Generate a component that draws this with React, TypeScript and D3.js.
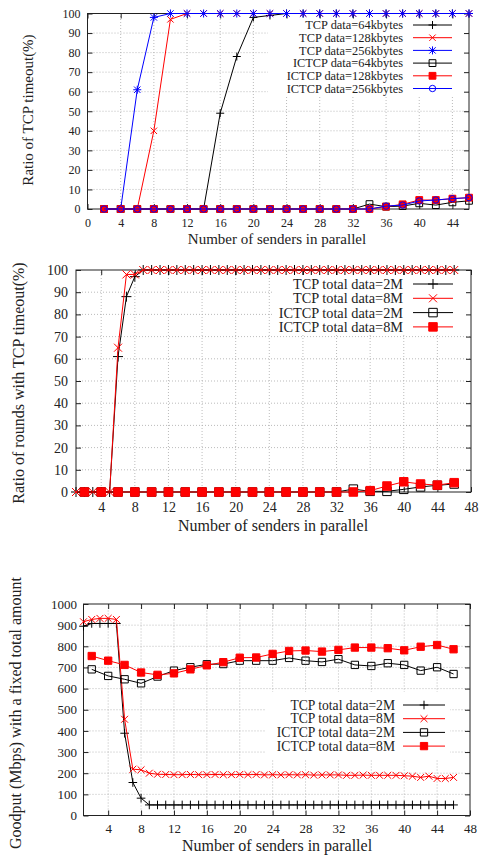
import React, { useRef, useEffect } from "react";
import * as d3 from "d3";

// ---------- chart 1: ratio of TCP timeout, by block size ----------
const x1 = [2, 4, 6, 8, 10, 12, 14, 16, 18, 20, 22, 24, 26, 28, 30, 32, 34, 36, 38, 40, 42, 44, 46];
const tcp64 = [0, 0, 0, 0, 0, 0, 0, 49, 78, 98, 99, 100, 100, 100, 100, 100, 100, 100, 100, 100, 100, 100, 100];
const tcp128 = [0, 0, 0, 40, 97, 100, 100, 100, 100, 100, 100, 100, 100, 100, 100, 100, 100, 100, 100, 100, 100, 100, 100];
const tcp256 = [0, 0, 61, 98, 100, 100, 100, 100, 100, 100, 100, 100, 100, 100, 100, 100, 100, 100, 100, 100, 100, 100, 100];
const ictcp64 = [0, 0, 0, 0, 0, 0, 0, 0, 0, 0, 0, 0, 0, 0, 0, 0, 2.5, 1.2, 1.5, 2.9, 2, 3.4, 4.2];
const ictcp128 = [0, 0, 0, 0, 0, 0, 0, 0, 0, 0, 0, 0, 0, 0, 0, 0, 0, 1.2, 2.4, 4.6, 4.6, 5.3, 5.8];
const ictcp256 = [0, 0, 0, 0, 0, 0, 0, 0, 0, 0, 0, 0, 0, 0, 0, 0, 0, 1.5, 2, 4.1, 4.6, 5.3, 5.8];
const x1Ticks = [0, 4, 8, 12, 16, 20, 24, 28, 32, 36, 40, 44];
const pctTicks = [0, 10, 20, 30, 40, 50, 60, 70, 80, 90, 100];

// ---------- chart 2: ratio of rounds with timeout, by total data ----------
const xAll = [1, 2, 3, 4, 5, 6, 7, 8, 9, 10, 11, 12, 13, 14, 15, 16, 17, 18, 19, 20, 21, 22, 23, 24, 25, 26, 27, 28, 29, 30, 31, 32, 33, 34, 35, 36, 37, 38, 39, 40, 41, 42, 43, 44, 45, 46];
const rTcp2M = [0, 0, 0, 0, 0, 61, 88, 97, 100, 100, 100, 100, 100, 100, 100, 100, 100, 100, 100, 100, 100, 100, 100, 100, 100, 100, 100, 100, 100, 100, 100, 100, 100, 100, 100, 100, 100, 100, 100, 100, 100, 100, 100, 100, 100, 100];
const rTcp8M = [0, 0, 0, 0, 0, 65, 98, 98, 100, 100, 100, 100, 100, 100, 100, 100, 100, 100, 100, 100, 100, 100, 100, 100, 100, 100, 100, 100, 100, 100, 100, 100, 100, 100, 100, 100, 100, 100, 100, 100, 100, 100, 100, 100, 100, 100];
const rIc2M = [0, 0, 0, 0, 0, 0, 0, 0, 0, 0, 0, 0, 0, 0, 0, 0, 1.3, 0.3, 0.3, 1.2, 2.3, 3, 3.6];
const rIc8M = [0, 0, 0, 0, 0, 0, 0, 0, 0, 0, 0, 0, 0, 0, 0, 0, 0, 0.6, 2.7, 4.6, 3.6, 3.1, 4.2];
const x48Ticks = [4, 8, 12, 16, 20, 24, 28, 32, 36, 40, 44, 48];

// ---------- chart 3: goodput ----------
const gTcp2M = [895, 908, 908, 908, 908, 389, 156, 82, 50, 50, 50, 50, 50, 50, 50, 50, 50, 50, 50, 50, 50, 50, 50, 50, 50, 50, 50, 50, 50, 50, 50, 50, 50, 50, 50, 50, 50, 50, 50, 50, 50, 50, 50, 50, 50, 50];
const gTcp8M = [916, 927, 932, 932, 927, 455, 219, 216, 200, 195, 194, 193, 193, 194, 193, 193, 194, 193, 193, 194, 193, 194, 192, 193, 192, 193, 192, 193, 191, 192, 192, 192, 190, 190, 191, 190, 190, 190, 190, 188, 186, 180, 186, 175, 175, 180];
const gIc2M = [691, 660, 644, 625, 657, 685, 701, 715, 716, 732, 732, 732, 745, 732, 726, 739, 712, 707, 720, 712, 685, 701, 669];
const gIc8M = [754, 732, 712, 676, 665, 672, 691, 710, 725, 746, 747, 764, 778, 780, 775, 783, 794, 794, 791, 781, 798, 806, 786];
const goodTicks = [0, 100, 200, 300, 400, 500, 600, 700, 800, 900, 1000];

const FONT = "'Liberation Serif', 'DejaVu Serif', serif";

const markerPath = (type, x, y, s) => {
  const p = d3.path();
  if (type === "plus" || type === "star") {
    p.moveTo(x - s, y); p.lineTo(x + s, y);
    p.moveTo(x, y - s); p.lineTo(x, y + s);
  }
  if (type === "cross" || type === "star") {
    const c = s * 0.8;
    p.moveTo(x - c, y - c); p.lineTo(x + c, y + c);
    p.moveTo(x - c, y + c); p.lineTo(x + c, y - c);
  }
  if (type === "square" || type === "fsquare") {
    p.rect(x - s * 0.85, y - s * 0.85, s * 1.7, s * 1.7);
  }
  if (type === "circle") {
    p.moveTo(x + s * 0.8, y);
    p.arc(x, y, s * 0.8, 0, 2 * Math.PI);
  }
  return p.toString();
};

const panels = [
  {
    xDomain: [0, 46], xRange: [87.5, 469],
    yDomain: [0, 100], yRange: [209, 13.5],
    xTicks: x1Ticks, yTicks: pctTicks,
    tickFont: 12, xPad: 9, yPad: 7, mark: 4,
    yLabel: "Ratio of TCP timeout(%)", yLabelPos: [28, 110],
    xLabelPos: [277, 244], labelFont: 15,
    legend: { box: [268, 14, 200, 81], textX: 403, lineX: [413, 452], y0: 25, dy: 12.7, font: 12.4 },
    series: [
      { name: "TCP data=64kbytes", x: x1, y: tcp64, color: "#000", marker: "plus" },
      { name: "TCP data=128kbytes", x: x1, y: tcp128, color: "#f00", marker: "cross" },
      { name: "TCP data=256kbytes", x: x1, y: tcp256, color: "#00f", marker: "star" },
      { name: "ICTCP data=64kbytes", x: x1, y: ictcp64, color: "#000", marker: "square" },
      { name: "ICTCP data=128kbytes", x: x1, y: ictcp128, color: "#f00", marker: "fsquare" },
      { name: "ICTCP data=256kbytes", x: x1, y: ictcp256, color: "#00f", marker: "circle" },
    ],
  },
  {
    xDomain: [1, 48], xRange: [76, 471],
    yDomain: [0, 100], yRange: [492, 270],
    xTicks: x48Ticks, yTicks: pctTicks,
    tickFont: 14, xPad: 10, yPad: 8, mark: 5,
    yLabel: "Ratio of rounds with TCP timeout(%)", yLabelPos: [18, 383],
    xLabelPos: [273, 531], labelFont: 16,
    legend: { box: [273, 271, 197, 62], textX: 403, lineX: [413, 453], y0: 284, dy: 14.3, font: 14.3 },
    series: [
      { name: "TCP total data=2M", x: xAll, y: rTcp2M, color: "#000", marker: "plus" },
      { name: "TCP total data=8M", x: xAll, y: rTcp8M, color: "#f00", marker: "cross" },
      { name: "ICTCP total data=2M", x: x1, y: rIc2M, color: "#000", marker: "square" },
      { name: "ICTCP total data=8M", x: x1, y: rIc8M, color: "#f00", marker: "fsquare" },
    ],
  },
  {
    xDomain: [1, 48], xRange: [83.5, 470],
    yDomain: [0, 1000], yRange: [815.5, 604],
    xTicks: x48Ticks, yTicks: goodTicks,
    tickFont: 13, xPad: 8.5, yPad: 6.5, mark: 4.3,
    yLabel: "Goodput (Mbps) with a fixed total amount", yLabelPos: [15, 713],
    xLabelPos: [277, 851], labelFont: 16,
    legend: { box: [265, 692, 185, 68], textX: 395, lineX: [403, 445], y0: 705, dy: 13.7, font: 13.6 },
    series: [
      { name: "TCP total data=2M", x: xAll, y: gTcp2M, color: "#000", marker: "plus" },
      { name: "TCP total data=8M", x: xAll, y: gTcp8M, color: "#f00", marker: "cross" },
      { name: "ICTCP total data=2M", x: x1, y: gIc2M, color: "#000", marker: "square" },
      { name: "ICTCP total data=8M", x: x1, y: gIc8M, color: "#f00", marker: "fsquare" },
    ],
  },
];

const drawPanel = (svg, cfg) => {
  const x = d3.scaleLinear().domain(cfg.xDomain).range(cfg.xRange);
  const y = d3.scaleLinear().domain(cfg.yDomain).range(cfg.yRange);
  const [x0, x1p] = cfg.xRange;
  const [yb, yt] = cfg.yRange;
  const g = svg.append("g");

  // dotted grid
  g.selectAll(".vgrid")
    .data(cfg.xTicks.filter((t) => x(t) > x0 + 1 && x(t) < x1p - 1))
    .join("line")
    .attr("x1", (d) => x(d)).attr("x2", (d) => x(d))
    .attr("y1", yb).attr("y2", yt)
    .attr("stroke", "#aaa").attr("stroke-width", 0.8).attr("stroke-dasharray", "1,2");
  g.selectAll(".hgrid")
    .data(cfg.yTicks.filter((t) => y(t) < yb - 1 && y(t) > yt + 1))
    .join("line")
    .attr("x1", x0).attr("x2", x1p)
    .attr("y1", (d) => y(d)).attr("y2", (d) => y(d))
    .attr("stroke", "#aaa").attr("stroke-width", 0.8).attr("stroke-dasharray", "1,2");

  // opaque key box hides the grid behind it
  const lg = cfg.legend;
  g.append("rect")
    .attr("x", lg.box[0]).attr("y", lg.box[1])
    .attr("width", lg.box[2]).attr("height", lg.box[3])
    .attr("fill", "#fff");

  // axes with inward ticks on all four sides
  const fmt = d3.format("d");
  const bottom = g.append("g").attr("transform", `translate(0,${yb})`)
    .call(d3.axisBottom(x).tickValues(cfg.xTicks).tickFormat(fmt).tickSizeInner(-5).tickSizeOuter(0).tickPadding(cfg.xPad));
  const left = g.append("g").attr("transform", `translate(${x0},0)`)
    .call(d3.axisLeft(y).tickValues(cfg.yTicks).tickFormat(fmt).tickSizeInner(-5).tickSizeOuter(0).tickPadding(cfg.yPad));
  const top = g.append("g").attr("transform", `translate(0,${yt})`)
    .call(d3.axisTop(x).tickValues(cfg.xTicks).tickFormat(() => "").tickSizeInner(-5).tickSizeOuter(0));
  const right = g.append("g").attr("transform", `translate(${x1p},0)`)
    .call(d3.axisRight(y).tickValues(cfg.yTicks).tickFormat(() => "").tickSizeInner(-5).tickSizeOuter(0));
  [bottom, left, top, right].forEach((a) => {
    a.select(".domain").remove();
    a.selectAll("line").attr("stroke", "#222");
    a.selectAll("text")
      .attr("font-family", FONT).attr("font-size", cfg.tickFont).attr("fill", "#222");
  });

  g.append("rect")
    .attr("x", x0).attr("y", yt)
    .attr("width", x1p - x0).attr("height", yb - yt)
    .attr("fill", "none").attr("stroke", "#222").attr("stroke-width", 1);

  // series
  const line = d3.line().x((d) => x(d[0])).y((d) => y(d[1]));
  cfg.series.forEach((s) => {
    const pts = s.x.map((v, i) => [v, s.y[i]]);
    g.append("path").datum(pts)
      .attr("d", line).attr("fill", "none")
      .attr("stroke", s.color).attr("stroke-width", 1);
    g.selectAll(null).data(pts).join("path")
      .attr("d", (d) => markerPath(s.marker, x(d[0]), y(d[1]), cfg.mark))
      .attr("fill", s.marker === "fsquare" ? s.color : "none")
      .attr("stroke", s.color).attr("stroke-width", 1);
  });

  // key
  cfg.series.forEach((s, i) => {
    const ly = lg.y0 + i * lg.dy;
    g.append("text")
      .attr("x", lg.textX).attr("y", ly).attr("dy", "0.35em")
      .attr("text-anchor", "end").attr("font-family", FONT).attr("font-size", lg.font)
      .attr("fill", "#222").text(s.name);
    g.append("line")
      .attr("x1", lg.lineX[0]).attr("x2", lg.lineX[1]).attr("y1", ly).attr("y2", ly)
      .attr("stroke", s.color).attr("stroke-width", 1);
    g.append("path")
      .attr("d", markerPath(s.marker, (lg.lineX[0] + lg.lineX[1]) / 2, ly, cfg.mark))
      .attr("fill", s.marker === "fsquare" ? s.color : "none")
      .attr("stroke", s.color).attr("stroke-width", 1);
  });

  // axis titles
  g.append("text")
    .attr("transform", `translate(${cfg.yLabelPos[0]},${cfg.yLabelPos[1]}) rotate(-90)`)
    .attr("text-anchor", "middle").attr("dy", "0.35em")
    .attr("font-family", FONT).attr("font-size", cfg.labelFont).attr("fill", "#222")
    .text(cfg.yLabel);
  g.append("text")
    .attr("x", cfg.xLabelPos[0]).attr("y", cfg.xLabelPos[1])
    .attr("text-anchor", "middle")
    .attr("font-family", FONT).attr("font-size", cfg.labelFont).attr("fill", "#222")
    .text("Number of senders in parallel");
};

const App = () => {
  const svgRef = useRef(null);

  useEffect(() => {
    const svg = d3.select(svgRef.current);
    svg.selectAll("*").remove();
    panels.forEach((p) => drawPanel(svg, p));
  }, []);

  return (
    <svg
      ref={svgRef}
      width={482}
      height={857}
      style={{ position: "absolute", left: 0, top: 0, background: "#fff" }}
    ></svg>
  );
};

export default App;
